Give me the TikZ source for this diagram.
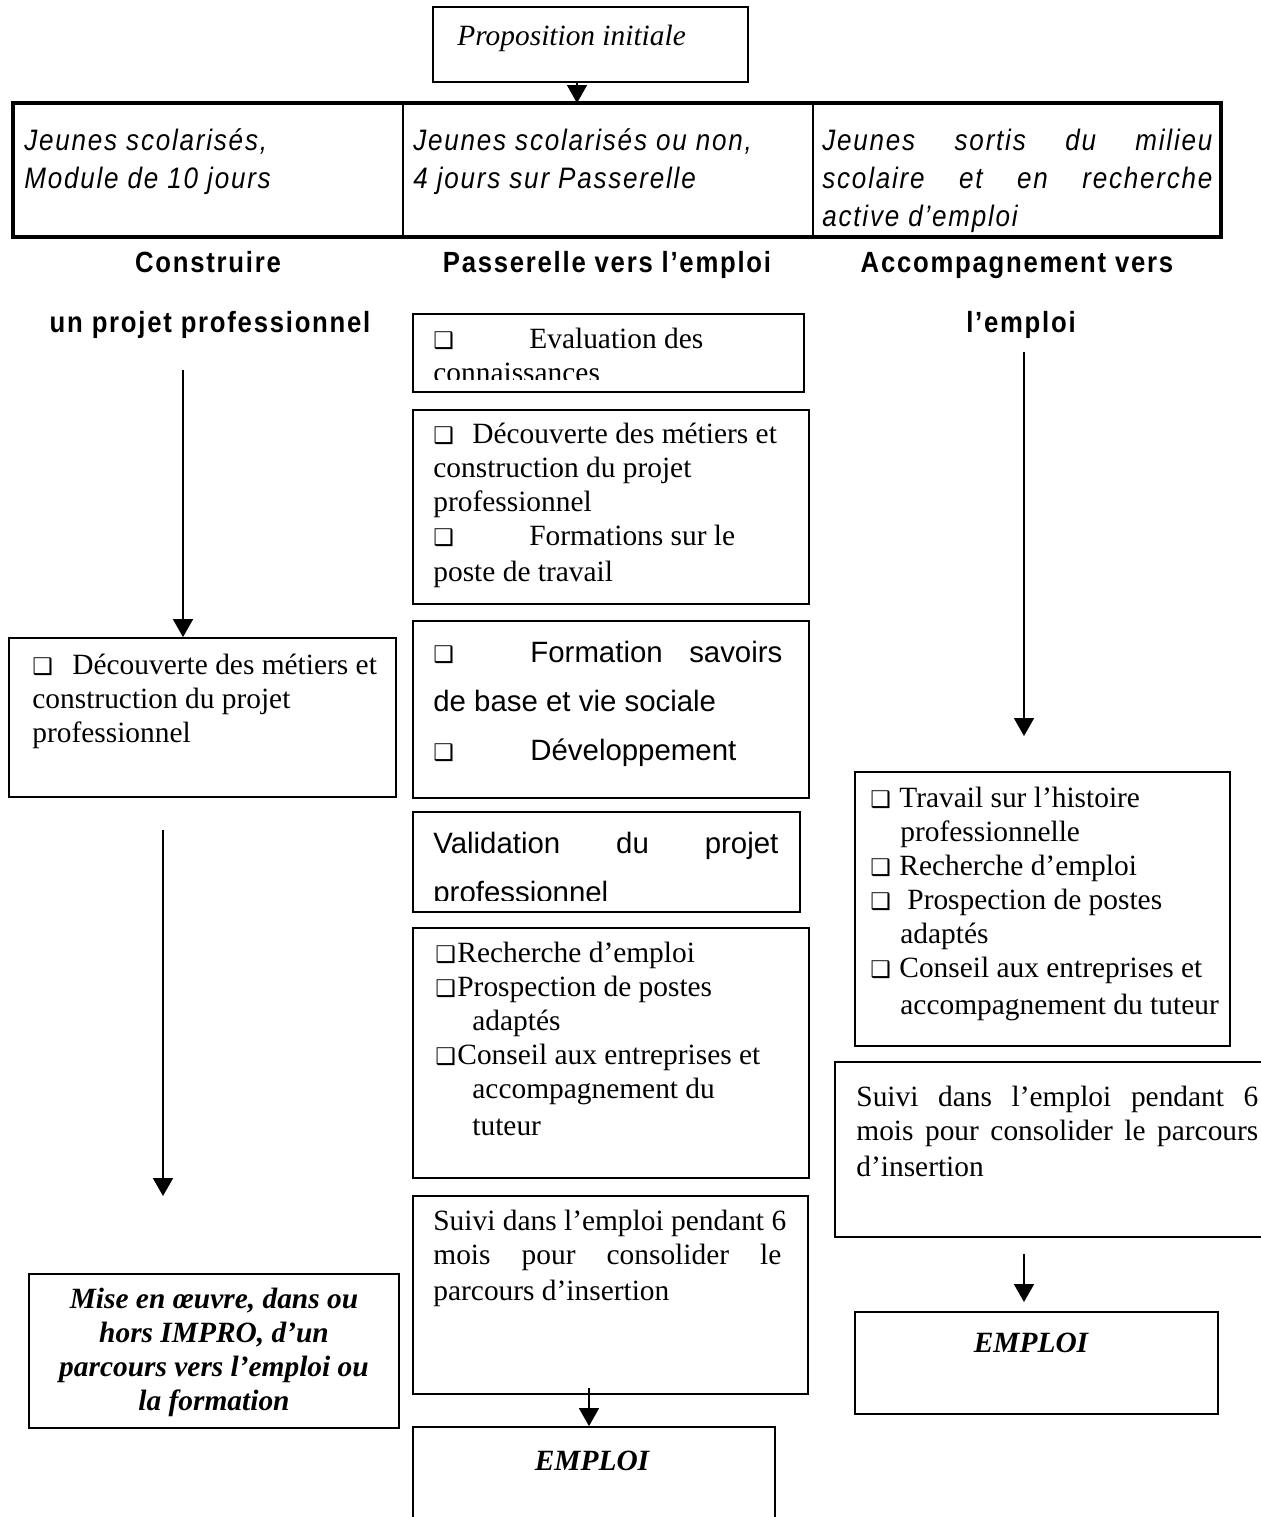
\documentclass[tikz,border=0pt]{standalone}
\usepackage{fontspec}
\setmainfont{Liberation Serif}
\newfontfamily\arialfont{Liberation Sans}
\newfontfamily\headfont[FakeStretch=0.88,LetterSpace=6]{Liberation Sans}
\newfontfamily\symfont{DejaVu Sans}
\usetikzlibrary{arrows.meta,fit,calc}

\newcommand{\sq}{{\symfont\fontsize{11.5}{11.5}\selectfont ❑}}
\newcommand{\tnr}{\fontsize{14.7}{17}\selectfont}
% lines of a box, baseline on the first line
\newcommand{\toplines}[1]{\vtop{\halign{##\hfil\cr#1\crcr}}}
\newcommand{\midlines}[1]{\vtop{\halign{\hfil##\hfil\cr#1\crcr}}}

\begin{document}
\begin{tikzpicture}[x=0.5pt,y=-0.5pt]
        \tikzset{box/.style={draw, line width=0.9pt, inner sep=0pt},
                 cell/.style={draw, line width=1pt, inner sep=0pt},
                 txt/.style={inner sep=0pt, anchor=base west, font=\tnr},
                 atxt/.style={txt, font=\arialfont\fontsize{14.7}{24.5}\selectfont},
                 ctxt/.style={txt, font=\headfont\itshape\fontsize{14.8}{19}\selectfont},
                 head/.style={inner sep=0pt, anchor=base, font=\headfont\bfseries\fontsize{14.6}{30}\selectfont},
                 arr/.style={-{Triangle[length=9pt, width=10pt]}, line width=0.8pt}}
        \useasboundingbox (0,0) rectangle (1260,1517);

        % proposition and the three publics
        \node[box, fit={(433,7) (748,82)}] (prop) {};
        \node[txt, font=\tnr\itshape] at (457,45) {Proposition initiale};

        \node[cell, fit={(14,104) (403,236)}] (pub1) {};
        \node[cell, fit={(403,104) (813,236)}] (pub2) {};
        \node[cell, fit={(813,104) (1220,236)}] (pub3) {};
        \draw[line width=1.8pt] (pub1.north west) rectangle (pub3.south east);
        \coordinate (a0) at (577,0);
        \draw[arr] (prop.south -| a0) -- (pub2.north -| a0);

        \node[ctxt] at (24,150) {\toplines{Jeunes scolarisés,\cr Module de 10 jours}};
        \node[ctxt] at (413,150) {\toplines{Jeunes scolarisés ou non,\cr 4 jours sur Passerelle}};
        \node[ctxt] at (822,150) {\toplines{\makebox[195pt][s]{Jeunes sortis du milieu}\cr\makebox[195pt][s]{scolaire et en recherche}\cr active d’emploi}};

        % column titles
        \node[head] at (208,272) {Construire};
        \node[head] at (210,332) {un projet professionnel};
        \node[head] at (607,272) {Passerelle vers l’emploi};
        \node[head] at (1017,272) {Accompagnement vers};
        \node[head] at (1021,332) {l’emploi};

        % left column
        \coordinate (l1) at (183,370);
        \node[box, fit={(9,638) (396,797)}] (ldec) {};
        \draw[arr] (l1) -- (l1 |- ldec.north);
        \node[txt] at (32,674) {\toplines{\makebox[20pt][l]{\sq}Découverte des métiers et\cr construction du projet\cr professionnel}};
        \coordinate (l2) at (163,830);
        \coordinate (l3) at (163,1196);
        \draw[arr] (l2) -- (l3);
        \node[box, fit={(29,1274) (399,1428)}] (lmise) {};
        \node[txt, anchor=base, font=\tnr\bfseries\itshape] at (214,1308) {\midlines{Mise en œuvre, dans ou\cr hors IMPRO, d’un\cr parcours vers l’emploi ou\cr la formation}};

        % middle column
        \node[box, fit={(413,314) (804,392)}] (meval) {};
        \begin{scope}
            \clip (413,314) rectangle (804,379);
            \node[txt] at (433,348) {\toplines{\makebox[48pt][l]{\sq}Evaluation des\cr connaissances}};
        \end{scope}
        \node[box, fit={(413,410) (809,604)}] (mdec) {};
        \node[txt] at (433,443) {\toplines{\makebox[19.5pt][l]{\sq}Découverte des métiers et\cr construction du projet\cr professionnel\cr\makebox[48pt][l]{\sq}Formations sur le\cr\noalign{\vskip1pt}poste de travail}};
        \node[box, fit={(413,621) (809,798)}] (mform) {};
        \node[atxt] at (433,662) {\toplines{\makebox[174.5pt][s]{\makebox[48.5pt][l]{\sq}Formation savoirs}\cr de base et vie sociale\cr\makebox[48.5pt][l]{\sq}Développement}};
        \node[box, fit={(413,812) (800,912)}] (mval) {};
        \begin{scope}
            \clip (413,812) rectangle (800,900);
            \node[atxt] at (433,853) {\toplines{\makebox[172.5pt][s]{Validation du projet}\cr professionnel}};
        \end{scope}
        \node[box, fit={(413,928) (809,1178)}] (mrech) {};
        \node[txt] at (435,962) {\toplines{\makebox[11pt][l]{\sq}Recherche d’emploi\cr\makebox[11pt][l]{\sq}Prospection de postes\cr\hspace*{18.5pt}adaptés\cr\makebox[11pt][l]{\sq}Conseil aux entreprises et\cr\hspace*{18.5pt}accompagnement du\cr\noalign{\vskip1.5pt}\hspace*{18.5pt}tuteur}};
        \node[box, fit={(413,1196) (808,1394)}] (msuivi) {};
        \node[txt] at (433,1230) {\toplines{Suivi dans l’emploi pendant 6\cr\makebox[174pt][s]{mois pour consolider le}\cr\noalign{\vskip1pt}parcours d’insertion}};
        \node[box, fit={(413,1427) (775,1540)}] (memploi) {};
        \node[txt, anchor=base, font=\tnr\bfseries\itshape] at (592,1470) {EMPLOI};
        \coordinate (m1) at (589,1388);
        \draw[arr] (m1) -- (m1 |- memploi.north);

        % right column
        \coordinate (r1) at (1024,352);
        \coordinate (r2) at (1024,736);
        \draw[arr] (r1) -- (r2);
        \node[box, fit={(855,772) (1230,1046)}] (racc) {};
        \node[txt] at (870,807) {\toplines{\makebox[14.5pt][l]{\sq}Travail sur l’histoire\cr\hspace*{15pt}professionnelle\cr\makebox[14.5pt][l]{\sq}Recherche d’emploi\cr\makebox[18.5pt][l]{\sq}Prospection de postes\cr\hspace*{15pt}adaptés\cr\makebox[14.5pt][l]{\sq}Conseil aux entreprises et\cr\noalign{\vskip1.5pt}\hspace*{15pt}accompagnement du tuteur}};
        \node[box, fit={(835,1062) (1270,1237)}] (rsuivi) {};
        \node[txt] at (856,1106) {\toplines{\makebox[201pt][s]{Suivi dans l’emploi pendant 6}\cr\makebox[201pt][s]{mois pour consolider le parcours}\cr\noalign{\vskip1pt}d’insertion}};
        \coordinate (r3) at (1024,1254);
        \coordinate (r4) at (1024,1302);
        \draw[arr] (r3) -- (r4);
        \node[box, fit={(855,1312) (1218,1414)}] (remploi) {};
        \node[txt, anchor=base, font=\tnr\bfseries\itshape] at (1031,1352) {EMPLOI};
\end{tikzpicture}
\end{document}
